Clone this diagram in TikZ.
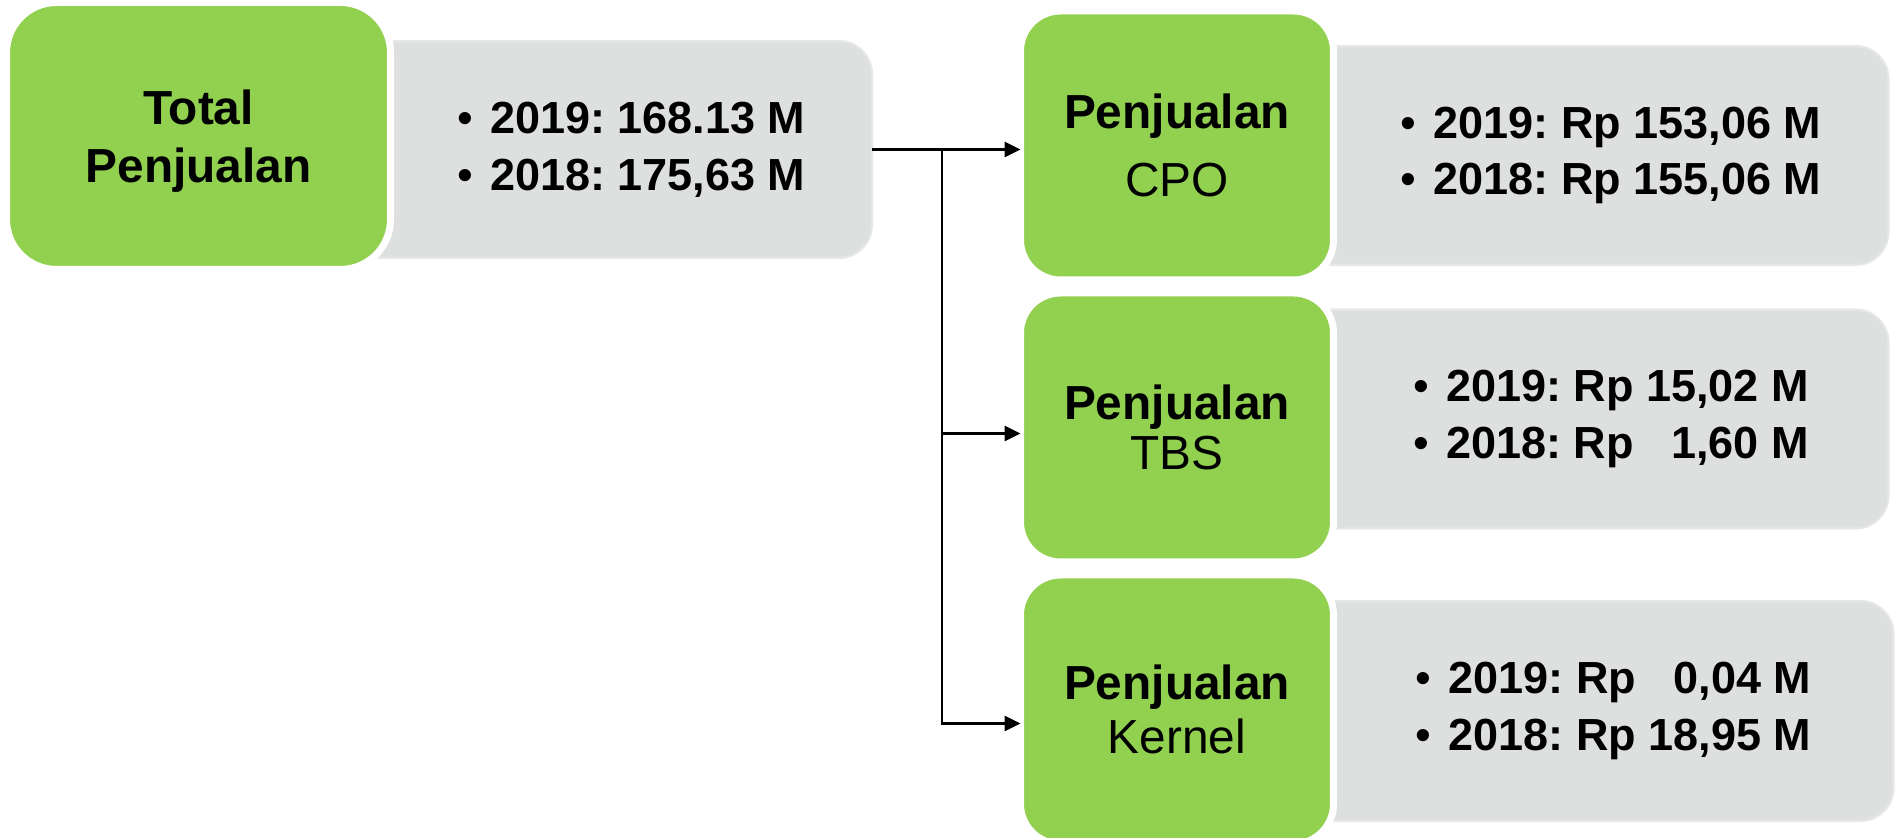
\documentclass[tikz,border=0pt]{standalone}
\usepackage{fontspec}
\setmainfont{Liberation Sans}
\usetikzlibrary{positioning, chains, arrows.meta, backgrounds}
\definecolor{hijau}{HTML}{92D050}
\definecolor{abu}{HTML}{DDE0DF}
\definecolor{abutepi}{HTML}{E6E8E7}
\frenchspacing
\tikzset{
>={Triangle[length=0.16cm,width=0.15cm]},
  kotak/.style={
    rectangle,
    rounded corners=0.4cm,
    fill=hijau,
    draw=white, line width=2pt,
    outer sep=0pt,
    minimum width=3.13cm,
    minimum height=2.69cm,
    align=center,
    inner sep=0pt,
    font=\fontsize{13.6}{15.5}\selectfont},
  kotakchain/.style={kotak, on chain},
  rincian/.style={
    rectangle,
    outer sep=0pt,
    minimum width=5.55cm,
    minimum height=2.19cm,
    align=left,
    inner sep=0pt,
    font=\bfseries\fontsize{12.8}{16.2}\selectfont},
  latar/.style={fill=abu, draw=abutepi, line width=0.6pt, rounded corners=0.33cm},
  line/.style={draw, line width=0.8pt, ->},
}
\newcommand{\butir}{{\mdseries\textbullet}\hspace{5pt}}

\begin{document}
\begin{tikzpicture}[node distance=0.13cm, start chain=going below]
\useasboundingbox (0,0) rectangle (18.98,8.38);
     \node[kotak, minimum width=3.84cm, minimum height=2.67cm, rounded corners=0.5cm,
           text depth=0pt, font=\bfseries\fontsize{13.6}{15.5}\selectfont]
           (TotalPenjualan) at (1.985,7.02) {Total\\[1pt]Penjualan};
     \node[rincian, minimum width=4.815cm, minimum height=2.17cm,
           right=0pt of TotalPenjualan, yshift=-0.135cm]
           (RincianTotal) {\butir 2019: 168.13 M\\\butir 2018: 175,63 M};

     \node[kotakchain] at (11.77,6.925) (PenjualanCPO) {\textbf{Penjualan}\\[4pt]CPO};
     \node[kotakchain] (PenjualanTBS)    {\textbf{Penjualan}\\[-1.5pt]TBS};
     \node[kotakchain] (PenjualanKernel) {\textbf{Penjualan}\\Kernel};

     \node[rincian, right=0pt of PenjualanCPO, yshift=-0.1cm]
           (RincianCPO) {\butir 2019: Rp 153,06 M\\\butir 2018: Rp 155,06 M};
     \node[rincian, right=0pt of PenjualanTBS, yshift=0.085cm]
           (RincianTBS) {\butir 2019: Rp 15,02 M\\\butir 2018: Rp \phantom{1}1,60 M};
     \node[rincian, minimum width=5.6cm, minimum height=2.2cm,
           right=0pt of PenjualanKernel, yshift=-0.015cm]
           (RincianKernel) {\butir 2019: Rp \phantom{1}0,04 M\\\butir 2018: Rp 18,95 M};

     % gray panels behind the figures
     \begin{scope}[on background layer]
       \path[latar] (RincianTotal.north -| TotalPenjualan.center) rectangle (RincianTotal.south east);
       \path[latar] (RincianCPO.north -| PenjualanCPO.center) rectangle (RincianCPO.south east);
       \path[latar] (RincianTBS.north -| PenjualanTBS.center) rectangle (RincianTBS.south east);
       \path[latar] (RincianKernel.north -| PenjualanKernel.center) rectangle (RincianKernel.south east);
     \end{scope}

     \coordinate[right=0.7cm of RincianTotal.east] (Cabang);
     \path[line] (RincianTotal.east) -- (RincianTotal.east -| PenjualanCPO.west);
     \path[line] (Cabang) |- ([yshift=-0.06cm]PenjualanTBS.west);
     \path[line] (Cabang) |- ([yshift=-0.14cm]PenjualanKernel.west);
\end{tikzpicture}
\end{document}
